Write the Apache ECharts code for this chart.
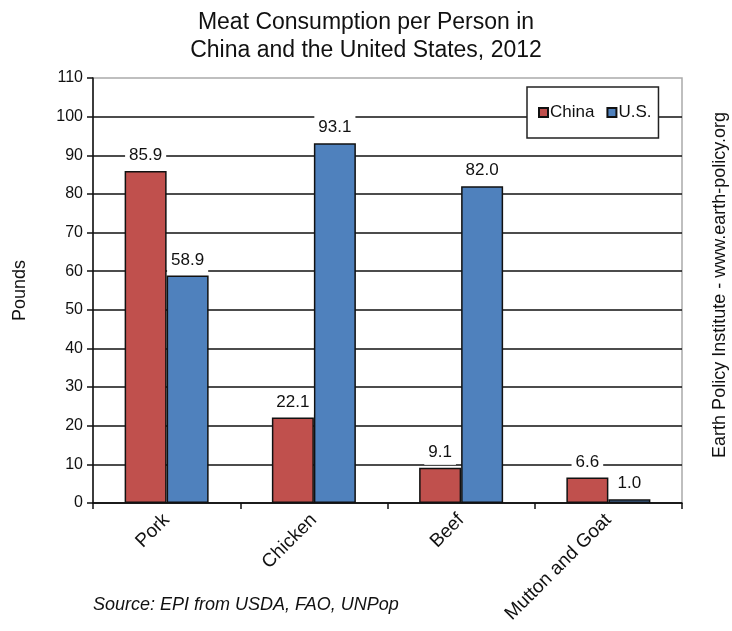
<!DOCTYPE html>
<html>
<head>
<meta charset="utf-8">
<script src="https://cdn.jsdelivr.net/npm/echarts@6/dist/echarts.min.js"></script>
<style>
  html, body { margin: 0; padding: 0; background: #fff; }
  #chart { width: 732px; height: 631px; }
</style>
</head>
<body>
<div id="chart"></div>
<script>
// data
const categories = ['Pork', 'Chicken', 'Beef', 'Mutton and Goat']
const chinaValues = [85.9, 22.1, 9.1, 6.6]
const usValues = [58.9, 93.1, 82.0, 1.0]
const yTicks = { min: 0, max: 110, interval: 10 }

const font = 'Liberation Sans, Arial, sans-serif'

let chart = echarts.init(document.getElementById('chart'))

let labelStyle = {
    show: true,
    position: 'top',
    distance: 3,
    color: '#111',
    fontFamily: font,
    fontSize: 17,
    backgroundColor: '#fff',
    padding: [4, 4],
    formatter: p => p.value.toFixed(1)
}

let option = {
    animation: false,
    title: {
        text: 'Meat Consumption per Person in\nChina and the United States, 2012',
        left: 'center',
        top: 4,
        textStyle: {
            fontFamily: font,
            fontSize: 23,
            fontWeight: 'normal',
            color: '#111',
            lineHeight: 28
        }
    },
    legend: {
        data: ['China', 'U.S.'],
        left: 527,
        top: 87,
        orient: 'horizontal',
        backgroundColor: '#fff',
        borderColor: '#222',
        borderWidth: 1.5,
        padding: [17, 7, 17, 11],
        itemGap: 12,
        itemWidth: 9,
        itemHeight: 9,
        icon: 'rect',
        textStyle: { fontFamily: font, fontSize: 17, color: '#111', padding: [0, 0, 0, -3] }
    },
    grid: {
        left: 93,
        right: 50,
        top: 78,
        bottom: 128,
        show: true,
        borderColor: '#aaa',
        borderWidth: 1.5
    },
    xAxis: {
        type: 'category',
        data: categories,
        axisLine: { lineStyle: { color: '#111', width: 1.5 } },
        axisTick: { show: true, length: 6, lineStyle: { color: '#111', width: 1.5 } },
        axisLabel: {
            rotate: 45,
            fontFamily: font,
            fontSize: 19,
            color: '#111',
            margin: 14
        }
    },
    yAxis: {
        type: 'value',
        min: yTicks.min,
        max: yTicks.max,
        interval: yTicks.interval,
        name: 'Pounds',
        nameLocation: 'middle',
        nameGap: 64,
        nameTextStyle: { fontFamily: font, fontSize: 18, color: '#111' },
        axisLine: { show: true, lineStyle: { color: '#111', width: 1.5 } },
        axisTick: { show: true, length: 6, lineStyle: { color: '#111', width: 1.5 } },
        axisLabel: { fontFamily: font, fontSize: 16, color: '#111', margin: 10 },
        splitLine: { show: true, showMaxLine: false, lineStyle: { color: '#111', width: 1.5 } }
    },
    series: [
        {
            name: 'China',
            type: 'bar',
            data: chinaValues,
            barWidth: 42,
            barGap: '0%',
            itemStyle: { color: '#C0504D', borderColor: '#111', borderWidth: 1.5 },
            label: labelStyle
        },
        {
            name: 'U.S.',
            type: 'bar',
            data: usValues,
            barWidth: 42,
            barGap: '0%',
            itemStyle: { color: '#4F81BD', borderColor: '#111', borderWidth: 1.5 },
            label: labelStyle
        }
    ],
    graphic: [
        {
            type: 'text',
            left: 93,
            top: 596,
            style: {
                text: 'Source: EPI from USDA, FAO, UNPop',
                fontFamily: font,
                fontStyle: 'italic',
                fontSize: 18,
                fill: '#111'
            }
        },
        {
            type: 'text',
            x: 720,
            y: 285,
            rotation: Math.PI / 2,
            style: {
                text: 'Earth Policy Institute - www.earth-policy.org',
                fontFamily: font,
                fontSize: 18,
                fill: '#111',
                align: 'center',
                verticalAlign: 'middle'
            }
        }
    ]
}

chart.setOption(option)
</script>
</body>
</html>
